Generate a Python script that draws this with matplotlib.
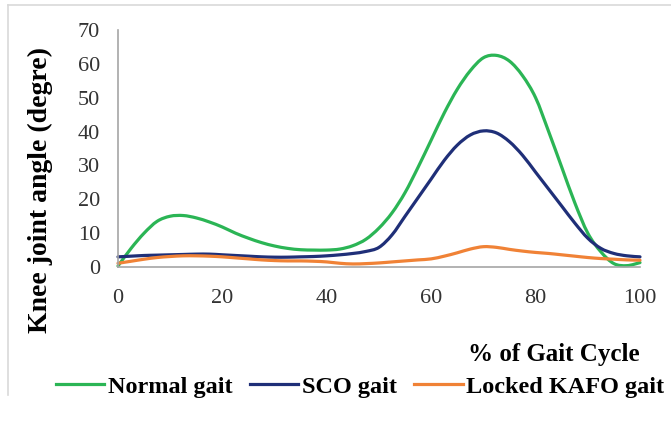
import matplotlib
matplotlib.use("Agg")
import matplotlib.pyplot as plt
from matplotlib.lines import Line2D
from matplotlib.path import Path
from matplotlib.patches import PathPatch

gait_cycle = [0, 2.5, 5, 7.5, 10, 12.5, 15, 17.5, 20, 22.5, 25, 27.5, 30, 32.5, 35, 37.5,
              40, 42.5, 45, 47.5, 50, 52.5, 55, 57.5, 60, 62.5, 65, 67.5, 70, 72.5, 75,
              77.5, 80, 82.5, 85, 87.5, 90, 92.5, 95, 97.5, 100]

normal_gait = [0.3, 5.5, 10, 13.5, 15, 15.2, 14.5, 13.3, 11.8, 10, 8.5, 7.2, 6.2, 5.5, 5.1, 5.0,
               5.0, 5.3, 6.3, 8.2, 11.5, 16, 22, 29.5, 37.5, 45.5, 52.5, 58, 61.8, 62.5, 60.8,
               56.5, 50, 40, 29.5, 19, 10, 4.5, 1.0, 0.4, 1.3]

sco_gait = [3.0, 3.2, 3.4, 3.5, 3.6, 3.7, 3.8, 3.8, 3.6, 3.4, 3.2, 3.0, 2.9, 2.9, 3.0, 3.1,
            3.3, 3.6, 4.0, 4.6, 5.8, 9.5, 15, 20.5, 26, 31.5, 36, 39, 40.2, 39.6, 37,
            33, 28, 23, 18, 13, 8.5, 5.5, 4.0, 3.3, 3.0]

kafo_gait = [1.1, 1.7, 2.3, 2.8, 3.1, 3.3, 3.3, 3.2, 3.0, 2.7, 2.4, 2.1, 1.9, 1.8, 1.8, 1.7,
             1.5, 1.1, 0.9, 1.0, 1.2, 1.5, 1.8, 2.1, 2.4, 3.2, 4.2, 5.3, 6.0, 5.8, 5.2,
             4.7, 4.3, 4.0, 3.6, 3.2, 2.8, 2.5, 2.3, 2.1, 2.0]

series_names = ["Normal gait", "SCO gait", "Locked KAFO gait"]
x_ticks = [0, 20, 40, 60, 80, 100]
y_ticks = [0, 10, 20, 30, 40, 50, 60, 70]

plt.rcParams['font.family'] = ['Liberation Serif', 'DejaVu Serif']


def smooth_path(xs, ys):
    """Excel-style smoothed line: cubic Bezier segments through the data points."""
    n = len(xs)
    verts = [(xs[0], ys[0])]
    codes = [Path.MOVETO]
    t = 1.0 / 6.0
    for i in range(n - 1):
        x0, y0 = (xs[i - 1], ys[i - 1]) if i > 0 else (xs[i], ys[i])
        x1, y1 = xs[i], ys[i]
        x2, y2 = xs[i + 1], ys[i + 1]
        x3, y3 = (xs[i + 2], ys[i + 2]) if i + 2 < n else (xs[i + 1], ys[i + 1])
        c1 = (x1 + (x2 - x0) * t, y1 + (y2 - y0) * t)
        c2 = (x2 - (x3 - x1) * t, y2 - (y3 - y1) * t)
        verts += [c1, c2, (x2, y2)]
        codes += [Path.CURVE4] * 3
    return Path(verts, codes)


W, H = 671, 421
fig = plt.figure(figsize=(W / 100, H / 100), dpi=100)
ax = fig.add_axes([118 / W, (H - 267) / H, (640 - 118) / W, (267 - 30) / H])

colors = ["#2BB555", "#1F2F78", "#F08236"]
for y, c, n in zip([normal_gait, sco_gait, kafo_gait], colors, series_names):
    patch = PathPatch(smooth_path(gait_cycle, y), facecolor='none', edgecolor=c, lw=2.3,
                      capstyle='round', joinstyle='round', label=n, clip_on=False)
    ax.add_patch(patch)

ax.set_xlim(0, 100)
ax.set_ylim(0, 70)
ax.set_xticks(x_ticks)
ax.set_yticks(y_ticks)
ax.tick_params(length=0, labelsize=16, colors="#333333")
ax.tick_params(axis='y', pad=13)
ax.tick_params(axis='x', pad=16)
for s in ['top', 'right']:
    ax.spines[s].set_visible(False)
for s in ['left', 'bottom']:
    ax.spines[s].set_color('#A6A6A6')
    ax.spines[s].set_linewidth(1.2)

fig.text(40 / W, 1 - 190 / H, "Knee joint angle (degre)", rotation=90, ha='center',
         va='center', fontsize=20, fontweight='bold')
fig.text(640 / W, 1 - 355 / H, "% of Gait Cycle", ha='right', va='center',
         fontsize=18, fontweight='bold')

handles = [Line2D([], [], color=c, lw=2.3) for c in colors]
fig.legend(handles, series_names, loc='center', bbox_to_anchor=(360 / W, 1 - 387 / H),
           ncol=3, frameon=False, prop={'weight': 'bold', 'size': 17.5},
           handlelength=2.0, handletextpad=0.15, columnspacing=0.7, borderpad=0)

# outer frame (top and left edges visible)
fig.add_artist(Line2D([8 / W, 1], [1 - 5 / H, 1 - 5 / H], color='#D9D9D9', lw=1.2,
                      transform=fig.transFigure))
fig.add_artist(Line2D([8 / W, 8 / W], [1 - 5 / H, 1 - 395 / H], color='#D9D9D9', lw=1.2,
                      transform=fig.transFigure))

fig.savefig("out.png", dpi=100)
